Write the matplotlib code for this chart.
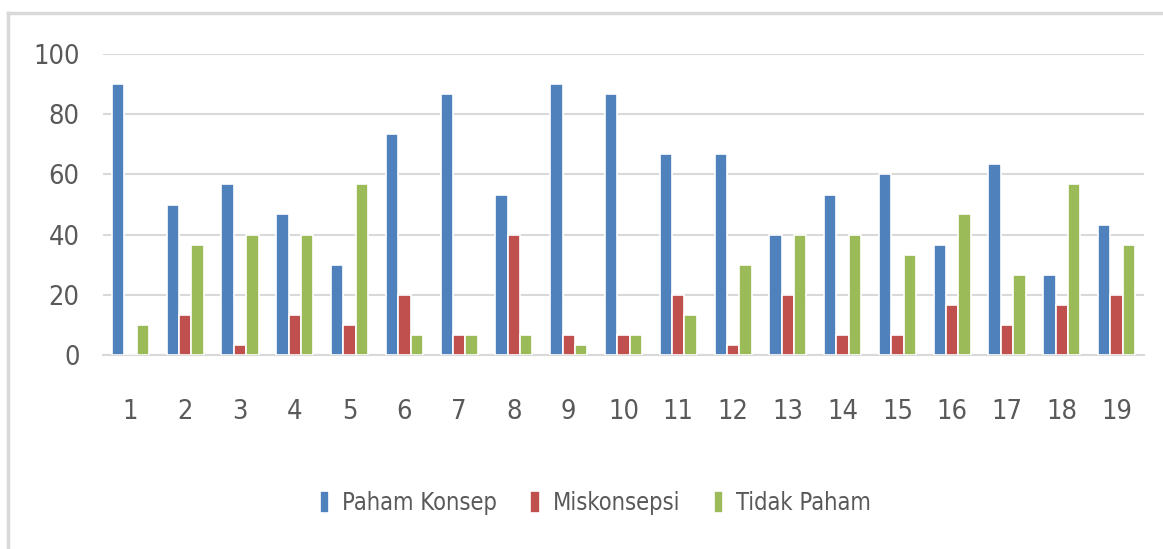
import numpy as np
import matplotlib
matplotlib.use("Agg")
import matplotlib.pyplot as plt
from matplotlib.lines import Line2D
from matplotlib import font_manager

# data
categories = [str(i) for i in range(1, 20)]
paham_konsep = [90, 50, 56.7, 46.7, 30, 73.3, 86.7, 53.3, 90, 86.7,
                66.7, 66.7, 40, 53.3, 60, 36.7, 63.3, 26.7, 43.3]
miskonsepsi = [0, 13.3, 3.3, 13.3, 10, 20, 6.7, 40, 6.7, 6.7,
               20, 3.3, 20, 6.7, 6.7, 16.7, 10, 16.7, 20]
tidak_paham = [10, 36.7, 40, 40, 56.7, 6.7, 6.7, 6.7, 3.3, 6.7,
               13.3, 30, 40, 40, 33.3, 46.7, 26.7, 56.7, 36.7]
series_names = ["Paham Konsep", "Miskonsepsi", "Tidak Paham"]
yticks = [0, 20, 40, 60, 80, 100]

colors = ["#4F81BD", "#C0504D", "#9BBB59"]
txt = "#595959"
grid = "#D9D9D9"

# prefer a narrow face (the original looks like Calibri)
names = set(f.name for f in font_manager.fontManager.ttflist)
stretch = 'normal'
if 'Liberation Sans Narrow' in names:
    fam = ['Liberation Sans Narrow', 'DejaVu Sans']
else:
    p = font_manager.findfont(font_manager.FontProperties(family='DejaVu Sans', stretch='condensed'))
    if 'Condensed' in p:
        fam = ['DejaVu Sans']
        stretch = 'condensed'
    else:
        fam = ['Liberation Sans', 'DejaVu Sans']
plt.rcParams['font.family'] = fam
plt.rcParams['font.stretch'] = stretch

fig = plt.figure(figsize=(11.63, 5.49), dpi=100)
ax = fig.add_axes([103/1163, 1-355/549, (1144-103)/1163, (355-54)/549])

x = np.arange(1, len(categories)+1)
step = 0.226
for i, (vals, name) in enumerate(zip([paham_konsep, miskonsepsi, tidak_paham], series_names)):
    ax.bar(x + (i-1)*step, vals, width=step, color=colors[i],
           edgecolor="white", linewidth=1.2, label=name, zorder=3)

ax.set_xlim(0.5, len(categories)+0.5)
ax.set_ylim(0, 100)
ax.set_yticks(yticks)
ax.set_xticks(x)
ax.set_xticklabels(categories)
ax.grid(axis='y', color=grid, linewidth=1.5, zorder=0)
for s in ['top', 'right', 'left']:
    ax.spines[s].set_visible(False)
ax.spines['bottom'].set_color(grid)
ax.spines['bottom'].set_linewidth(1.5)
ax.tick_params(axis='both', length=0, labelcolor=txt, labelsize=19.5)
ax.tick_params(axis='x', pad=32)
ax.tick_params(axis='y', pad=17)

# outer chart frame (left and top edges visible)
fig.add_artist(Line2D([8/1163, 8/1163], [0, 1-13/549], transform=fig.transFigure,
                      color=grid, linewidth=2.5))
fig.add_artist(Line2D([8/1163, 1], [1-13/549, 1-13/549], transform=fig.transFigure,
                      color=grid, linewidth=2.5))

fig.legend(loc='center', bbox_to_anchor=(0.512, 1-503/549), ncol=3, frameon=False,
           fontsize=17, labelcolor=txt, handlelength=0.4, handleheight=1.1,
           handletextpad=0.55, columnspacing=1.42)

fig.savefig("out.png", dpi=100)
